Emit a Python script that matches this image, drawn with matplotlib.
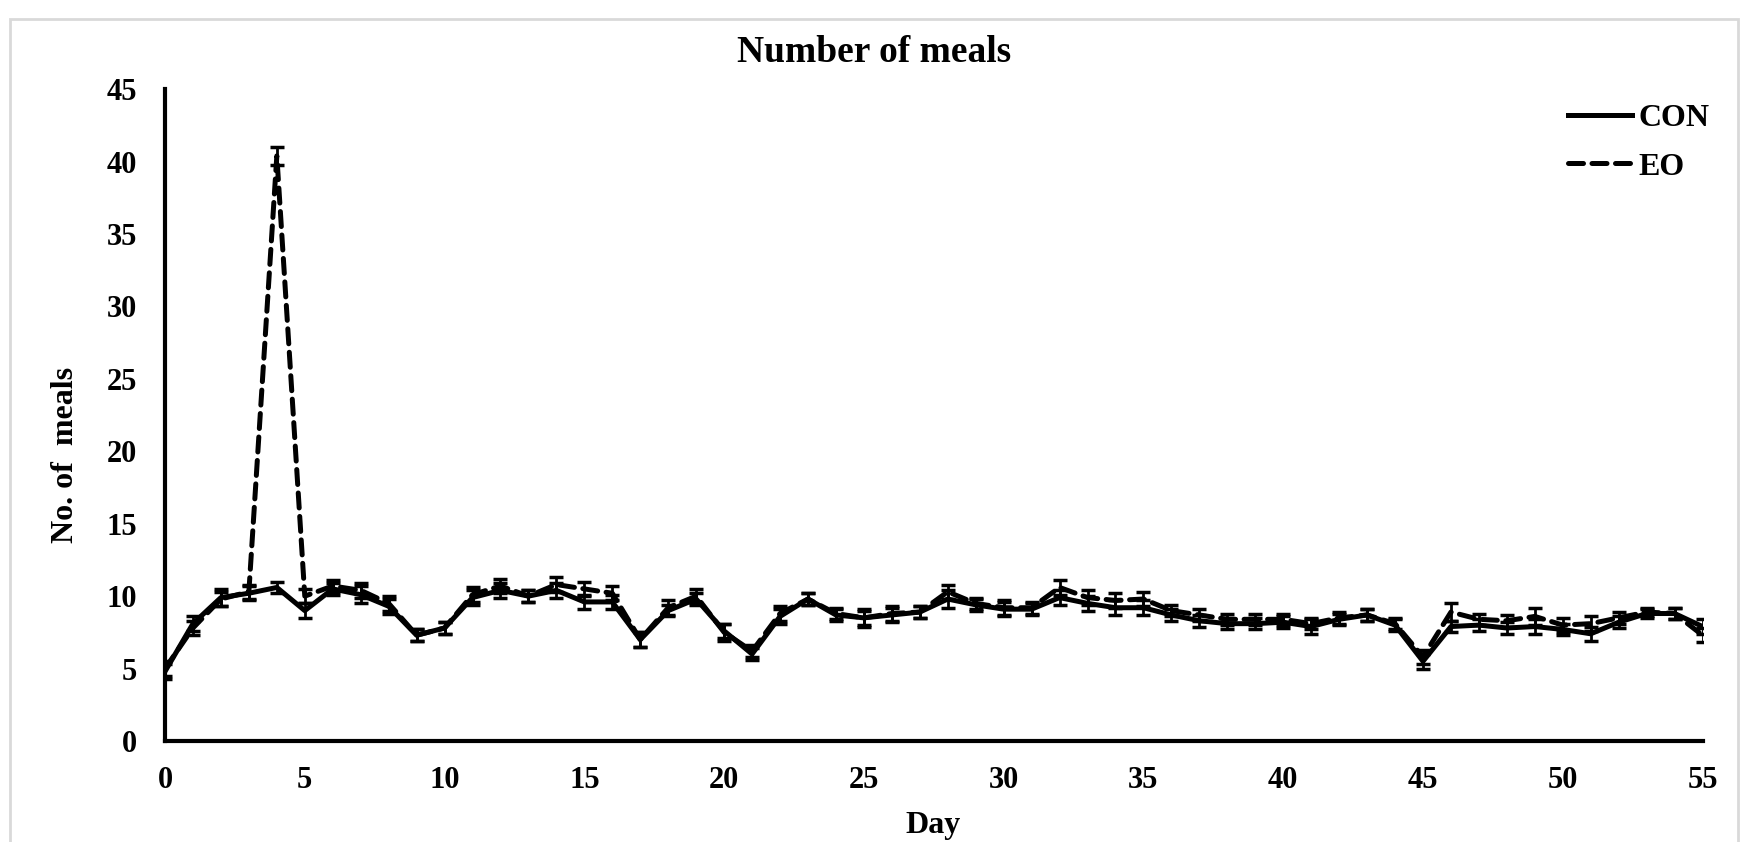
import numpy as np
import matplotlib.pyplot as plt
from matplotlib.patches import Rectangle
from matplotlib.lines import Line2D

# Daily number of meals, mean and SEM per group
day = np.arange(0, 56)

con_mean = [4.8, 8.1, 9.9, 10.2, 10.6, 9.0, 10.5, 10.1, 9.3, 7.3,
            7.8, 9.9, 10.4, 10.0, 10.4, 9.6, 9.6, 7.0, 9.0, 9.8,
            7.6, 6.0, 8.6, 9.8, 8.7, 8.5, 8.7, 8.9, 9.8, 9.4,
            9.1, 9.1, 9.9, 9.5, 9.2, 9.2, 8.7, 8.3, 8.1, 8.1,
            8.2, 7.9, 8.4, 8.7, 8.0, 5.5, 7.9, 8.0, 7.8, 7.9,
            7.7, 7.4, 8.2, 8.8, 8.8, 7.9]
con_sem = [0.5, 0.5, 0.6, 0.5, 0.4, 0.5, 0.4, 0.6, 0.5, 0.4,
           0.4, 0.5, 0.5, 0.4, 0.5, 0.5, 0.5, 0.5, 0.4, 0.4,
           0.5, 0.4, 0.5, 0.4, 0.4, 0.6, 0.5, 0.4, 0.6, 0.4,
           0.5, 0.4, 0.5, 0.5, 0.5, 0.5, 0.4, 0.4, 0.4, 0.4,
           0.4, 0.5, 0.4, 0.4, 0.4, 0.5, 0.4, 0.4, 0.4, 0.5,
           0.4, 0.5, 0.4, 0.3, 0.4, 0.5]

eo_mean = [5.0, 7.8, 9.8, 10.3, 40.4, 10.0, 10.7, 10.4, 9.5, 7.3,
           7.8, 10.1, 10.7, 10.0, 10.8, 10.5, 10.2, 7.0, 9.2, 10.0,
           7.5, 6.2, 8.8, 9.8, 8.8, 8.5, 8.8, 8.9, 10.3, 9.5,
           9.2, 9.2, 10.6, 9.9, 9.7, 9.8, 9.0, 8.7, 8.4, 8.4,
           8.4, 8.1, 8.5, 8.7, 8.1, 5.8, 8.9, 8.4, 8.3, 8.6,
           8.0, 8.1, 8.5, 8.9, 8.8, 7.3]
eo_sem = [0.5, 0.5, 0.5, 0.5, 0.6, 0.5, 0.4, 0.5, 0.5, 0.4,
          0.4, 0.5, 0.5, 0.4, 0.5, 0.5, 0.5, 0.5, 0.5, 0.5,
          0.6, 0.4, 0.5, 0.4, 0.4, 0.5, 0.5, 0.4, 0.5, 0.4,
          0.5, 0.4, 0.5, 0.5, 0.5, 0.5, 0.4, 0.4, 0.4, 0.4,
          0.4, 0.4, 0.4, 0.4, 0.4, 0.5, 0.6, 0.4, 0.4, 0.6,
          0.5, 0.5, 0.4, 0.3, 0.4, 0.5]

plt.rcParams['font.family'] = 'Liberation Serif'
plt.rcParams['font.weight'] = 'bold'

DASH = (0, (3.0, 1.7))

fig = plt.figure(figsize=(17.48, 8.42), dpi=100)
ax = fig.add_axes([0.0944, 0.12, 0.8796, 0.774])

# light grey frame round the chart
fig.patches.append(Rectangle((0.006, -0.01), 0.988, 0.988, transform=fig.transFigure,
                             fill=False, edgecolor='#d9d9d9', linewidth=2))

ax.errorbar(day, con_mean, yerr=con_sem, color='black', linewidth=3.6,
            elinewidth=2, capsize=5, capthick=2.5, label='CON')
eb = ax.errorbar(day, eo_mean, yerr=eo_sem, color='black', linewidth=3.6, linestyle=DASH,
                 elinewidth=2, capsize=5, capthick=2.5, label='EO')
eb[0].set_dash_capstyle('round')

ax.set_xlim(0, 55)
ax.set_ylim(0, 45)
ax.set_xticks(np.arange(0, 56, 5))
ax.set_yticks(np.arange(0, 46, 5))
ax.tick_params(axis='y', length=0, labelsize=22, pad=20)
ax.tick_params(axis='x', length=0, labelsize=22, pad=18)
for lbl in ax.get_xticklabels() + ax.get_yticklabels():
    lbl.set_fontweight('bold')

for s in ['top', 'right']:
    ax.spines[s].set_visible(False)
for s in ['left', 'bottom']:
    ax.spines[s].set_linewidth(3)

fig.text(0.5, 0.938, 'Number of meals', ha='center', va='center',
         fontsize=27, fontweight='bold')
ax.set_xlabel('Day', fontsize=23, fontweight='bold')
ax.set_ylabel('No. of  meals', fontsize=23, fontweight='bold')
ax.xaxis.set_label_coords(0.4995, -0.108)
ax.yaxis.set_label_coords(-0.0553, 0.439)

handles = [Line2D([], [], color='black', linewidth=3.6),
           Line2D([], [], color='black', linewidth=3.6, linestyle=DASH, dash_capstyle='round')]
ax.legend(handles, ['CON', 'EO'], loc='upper right', bbox_to_anchor=(1.023, 1.022),
          frameon=False, handlelength=2.0, handletextpad=0.2,
          labelspacing=0.6, prop={'weight': 'bold', 'size': 23})

fig.savefig('out.png', dpi=100)
